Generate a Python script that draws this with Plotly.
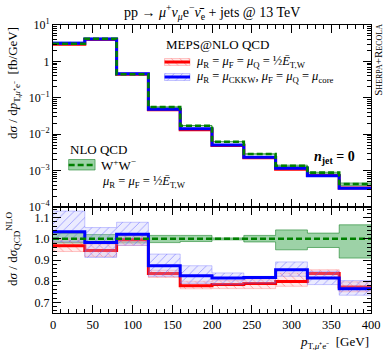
import plotly.graph_objects as go
from plotly.subplots import make_subplots

# ---------------- data ----------------
bin_edges = [0, 40, 80, 120, 160, 200, 240, 280, 320, 360, 400]
# NLO QCD W+W- differential cross section [fb/GeV]
nlo_qcd = [3.06, 4.2, 0.445, 0.0558, 0.0171, 0.0062, 0.00286, 0.00136, 0.00088, 0.00043]
nlo_qcd_lo = [0.980, 0.980, 0.980, 0.982, 0.987, 0.995, 0.985, 0.948, 0.959, 0.909]
nlo_qcd_hi = [1.025, 1.020, 1.020, 1.016, 1.016, 1.004, 1.016, 1.042, 1.027, 1.066]
# MEPS@NLO, mu = 1/2 E_T,W  (ratio to NLO QCD)
meps_et = [0.967, 0.945, 0.995, 0.836, 0.779, 0.784, 0.789, 0.798, 0.836, 0.773]
meps_et_lo = [0.940, 0.917, 0.969, 0.818, 0.764, 0.765, 0.765, 0.776, 0.818, 0.750]
meps_et_hi = [1.000, 0.975, 1.016, 0.852, 0.800, 0.803, 0.807, 0.839, 0.854, 0.797]
# MEPS@NLO, mu_R = mu_CKKW, mu_F = mu_Q = mu_core (ratio to NLO QCD)
meps_ckkw = [1.033, 0.983, 1.022, 0.873, 0.826, 0.815, 0.817, 0.854, 0.815, 0.764]
meps_ckkw_lo = [0.985, 0.912, 0.969, 0.823, 0.790, 0.784, 0.790, 0.823, 0.784, 0.734]
meps_ckkw_hi = [1.131, 1.053, 1.078, 0.928, 0.873, 0.839, 0.823, 0.891, 0.847, 0.803]

x_tick_vals = [0, 50, 100, 150, 200, 250, 300, 350, 400]
log_tick_vals = [1e-4, 1e-3, 1e-2, 1e-1, 1, 10]
log_tick_text = ["10<sup>−4</sup>", "10<sup>−3</sup>", "10<sup>−2</sup>", "10<sup>−1</sup>", "1", "10<sup>1</sup>"]
ratio_tick_vals = [0.7, 0.8, 0.9, 1.0, 1.1]
ratio_tick_text = ["0.7", "0.8", "0.9", "1.0", "1.1"]

# ---------------- style ----------------
FONT = "Liberation Serif"
W, H = 392, 350
L, R, T, B = 53, 14, 25, 37
PW, PH = W - L - R, H - T - B
LOWER_H = 106

RED = "#ff0000"
BLUE = "#0000ff"
GREEN = "#008000"
GREEN_FILL = "rgba(60,165,80,0.5)"
GREEN_EDGE = "rgba(0,120,20,0.65)"
RED_EDGE = "rgba(255,60,60,0.35)"
BLUE_EDGE = "rgba(60,60,255,0.35)"
RED_PAT = dict(shape="\\", fgcolor="rgba(255,80,80,0.55)", bgcolor="rgba(255,190,190,0.30)", size=6, solidity=0.15, fgopacity=1)
BLUE_PAT = dict(shape="/", fgcolor="rgba(90,90,255,0.55)", bgcolor="rgba(190,190,255,0.30)", size=6, solidity=0.15, fgopacity=1)


def step(v):
    return list(v) + [v[-1]]


fig = make_subplots(rows=2, cols=1, shared_xaxes=True, vertical_spacing=0,
                    row_heights=[PH - LOWER_H, LOWER_H])


def add_band(row, lo, hi, edge, fillcolor=None, pattern=None, width=0.8):
    fig.add_trace(go.Scatter(x=bin_edges, y=step(lo), mode="lines", line_shape="hv",
                             line=dict(color=edge, width=width), showlegend=False,
                             hoverinfo="skip"), row=row, col=1)
    kw = dict(fill="tonexty")
    if pattern is not None:
        kw["fillpattern"] = pattern
        kw["fillcolor"] = pattern["bgcolor"]
    else:
        kw["fillcolor"] = fillcolor
    fig.add_trace(go.Scatter(x=bin_edges, y=step(hi), mode="lines", line_shape="hv",
                             line=dict(color=edge, width=width), showlegend=False,
                             hoverinfo="skip", **kw), row=row, col=1)


def add_line(row, vals, color, dash="solid", width=3):
    fig.add_trace(go.Scatter(x=bin_edges, y=step(vals), mode="lines", line_shape="hv",
                             line=dict(color=color, width=width, dash=dash),
                             showlegend=False, hoverinfo="skip"), row=row, col=1)


for row in (1, 2):
    if row == 1:
        scale = nlo_qcd
    else:
        scale = [1.0] * len(nlo_qcd)
    mul = lambda r: [a * b for a, b in zip(r, scale)]
    add_band(row, mul(nlo_qcd_lo), mul(nlo_qcd_hi), GREEN_EDGE, fillcolor=GREEN_FILL)
    add_band(row, mul(meps_et_lo), mul(meps_et_hi), RED_EDGE, pattern=RED_PAT)
    add_line(row, mul(meps_et), RED)
    add_band(row, mul(meps_ckkw_lo), mul(meps_ckkw_hi), BLUE_EDGE, pattern=BLUE_PAT)
    add_line(row, mul(meps_ckkw), BLUE)
    add_line(row, scale, GREEN, dash="6px,3px", width=2.6)

# ---------------- legend keys (drawn on a pixel overlay axis) ----------------
def key_box(x0, x1, y0, y1, fillcolor=None, pattern=None, edge="rgba(0,0,0,0)"):
    kw = dict(fill="toself")
    if pattern is not None:
        kw["fillpattern"] = pattern
        kw["fillcolor"] = pattern["bgcolor"]
    else:
        kw["fillcolor"] = fillcolor
    fig.add_trace(go.Scatter(x=[x0, x1, x1, x0, x0], y=[y0, y0, y1, y1, y0], mode="lines",
                             line=dict(color=edge, width=0.8), xaxis="x3", yaxis="y3",
                             showlegend=False, hoverinfo="skip", **kw))


def key_line(x0, x1, y, color, dash="solid", width=3):
    fig.add_trace(go.Scatter(x=[x0, x1], y=[y, y], mode="lines",
                             line=dict(color=color, width=width, dash=dash),
                             xaxis="x3", yaxis="y3", showlegend=False, hoverinfo="skip"))


key_box(167, 193, 58.5, 65.5, pattern=RED_PAT, edge=RED_EDGE)
key_line(167, 193, 62, RED)
key_box(167, 193, 73.5, 80.5, pattern=BLUE_PAT, edge=BLUE_EDGE)
key_line(167, 193, 77, BLUE)
key_box(69, 96, 159.5, 170, fillcolor=GREEN_FILL, edge=GREEN_EDGE)
key_line(69, 96, 165, GREEN, dash="6px,3px", width=2.6)

# ---------------- axes ----------------
axis_common = dict(showline=True, linecolor="black", linewidth=1, mirror="allticks",
                   ticks="inside", ticklen=8, tickcolor="black", tickwidth=1,
                   showgrid=False, zeroline=False,
                   tickfont=dict(family=FONT, size=12.5, color="black"))

fig.update_xaxes(range=[0, 400], tickvals=x_tick_vals,
                 minor=dict(dtick=10, tick0=0, ticks="inside", ticklen=4, tickcolor="black"),
                 **axis_common)
fig.update_xaxes(showticklabels=False, row=1, col=1)

minor_log = [k * 10.0 ** e for e in range(-4, 1) for k in range(2, 10)]
fig.update_yaxes(type="log", range=[-4, 1], tickvals=log_tick_vals, ticktext=log_tick_text,
                 minor=dict(tickmode="array", tickvals=minor_log, ticks="inside", ticklen=4,
                            tickcolor="black"),
                 row=1, col=1, **axis_common)
fig.update_yaxes(range=[0.65, 1.15], tickvals=ratio_tick_vals, ticktext=ratio_tick_text,
                 minor=dict(dtick=0.02, tick0=0.7, ticks="inside", ticklen=4, tickcolor="black"),
                 row=2, col=1, **axis_common)
fig.update_yaxes(tickfont=dict(family=FONT, size=12, color="black"))

fig.update_layout(
    xaxis3=dict(domain=[0, 1], range=[L, L + PW], visible=False, anchor="y3", fixedrange=True),
    yaxis3=dict(domain=[0, 1], range=[T + PH, T], visible=False, anchor="x3", fixedrange=True),
)

# ---------------- text ----------------
def px2paper(px, py):
    return (px - L) / PW, (T + PH - py) / PH


annotations = []


def ann(text, px, py, xanchor="left", yanchor="middle", size=13, angle=0, **extra):
    x, y = px2paper(px, py)
    font = dict(family=FONT, size=size, color="black")
    font.update(extra.pop("font", {}))
    annotations.append(dict(text=text, x=x, y=y, xref="paper", yref="paper",
                            xanchor=xanchor, yanchor=yanchor, showarrow=False,
                            textangle=angle, font=font, **extra))


mu = "<i>μ</i>"
ann("pp → " + mu + "<sup>+</sup><i>ν</i><sub><i>μ</i></sub>e<sup>−</sup><i>ν̄</i><sub>e</sub> + jets @ 13 TeV",
    216, 12, xanchor="center", size=14)
ann("MEPS@NLO QCD", 166, 45)
ann(mu + "<sub>R</sub> = " + mu + "<sub>F</sub> = " + mu + "<sub>Q</sub> = ½<i>Ē</i><sub>T,W</sub>",
    197, 61.5, size=12.5)
ann(mu + "<sub>R</sub> = " + mu + "<sub>CKKW</sub>, " + mu + "<sub>F</sub> = " + mu + "<sub>Q</sub> = "
    + mu + "<sub>core</sub>", 197, 77.5, size=12.5)
ann("NLO QCD", 68, 149)
ann("W<sup>+</sup>W<sup>−</sup>", 100, 165)
ann(mu + "<sub>R</sub> = " + mu + "<sub>F</sub> = ½<i>Ē</i><sub>T,W</sub>", 101, 182, size=12.5)
ann("<b><i>n</i><sub>jet</sub> = 0</b>", 318, 157, size=14)
ann("d<i>σ</i> / d<i>p</i><sub>T,<i>μ</i>⁺e⁻</sub>  [fb/GeV]", 12, 25, xanchor="center", yanchor="top", angle=-90)
ann("d<i>σ</i> / d<i>σ</i><sub>QCD</sub><sup>NLO</sup>", 12, 210, xanchor="center", yanchor="top", angle=-90)
ann("<i>p</i><sub>T,<i>μ</i>⁺e⁻</sub>  [GeV]", 378, 342, xanchor="right")
ann("Sherpa+Recola", 385, 22, xanchor="center", yanchor="top", angle=-90, size=11,
    font=dict(variant="small-caps"))

fig.update_layout(
    width=W, height=H,
    margin=dict(l=L, r=R, t=T, b=B),
    paper_bgcolor="white", plot_bgcolor="rgba(0,0,0,0)",
    font=dict(family=FONT, size=13, color="black"),
    showlegend=False,
    annotations=annotations,
)

fig.write_html("out.html", config={"displayModeBar": False},
               post_script="document.body.style.margin='0px';")
